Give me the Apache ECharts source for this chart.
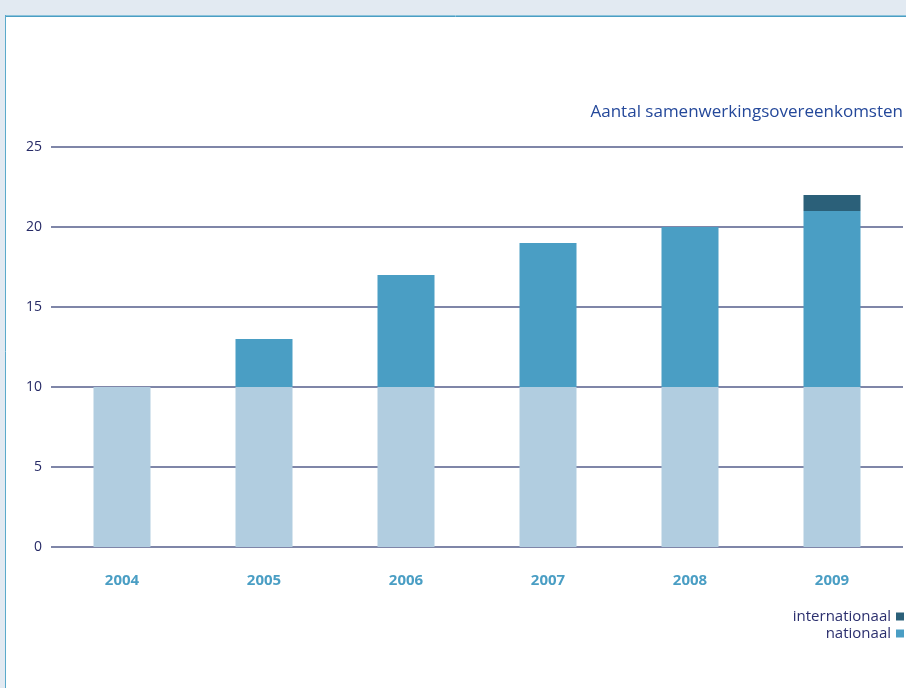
<!DOCTYPE html>
<html><head><meta charset="utf-8">
<script src="https://cdn.jsdelivr.net/npm/echarts@6/dist/echarts.min.js"></script>
<style>html,body{margin:0;padding:0;background:#e2eaf2;}#c{width:906px;height:688px;}</style>
</head><body><div id="c"></div>
<script>
const categories = ['2004','2005','2006','2007','2008','2009'];
const basis = [10,10,10,10,10,10];
const nationaal = [0,3,7,9,10,11];
const internationaal = [0,0,0,0,0,1];
const yTicks = {min:0,max:25,interval:5};

const chart = echarts.init(document.getElementById('c'));
chart.setOption({
  backgroundColor:'#e2eaf2',
  animation:false,
  graphic:[
    {type:'rect',z:-10,silent:true,shape:{x:5,y:15,width:901,height:673},style:{fill:'#ffffff'}},
    {type:'line',z:-9,silent:true,shape:{x1:5,y1:15.5,x2:906,y2:15.5},style:{stroke:'#8cc3db',lineWidth:1}},
    {type:'line',z:-9,silent:true,shape:{x1:5,y1:16.5,x2:906,y2:16.5},style:{stroke:'#4a9ec4',lineWidth:1}},
    {type:'line',z:-9,silent:true,shape:{x1:5.5,y1:15,x2:5.5,y2:688},style:{stroke:'#5aaacb',lineWidth:1}}
  ],
  title:{text:'Aantal samenwerkingsovereenkomsten',right:-2,top:99,
    textStyle:{color:'#24489a',fontSize:17,fontWeight:'normal',fontFamily:'Open Sans'}},
  grid:{left:51,right:3,top:147,bottom:141,containLabel:false},
  legend:{orient:'vertical',right:-3,top:604,align:'right',itemWidth:8,itemHeight:8,itemGap:2,
    icon:'rect',data:['internationaal','nationaal'],
    textStyle:{color:'#2b2f6e',fontSize:15,fontFamily:'Open Sans',padding:[0,0,0,0]}},
  xAxis:{type:'category',data:categories,axisLine:{show:false},axisTick:{show:false},
    axisLabel:{color:'#4a9ec4',fontWeight:'bold',fontSize:15,margin:26,fontFamily:'Open Sans'}},
  yAxis:{type:'value',min:yTicks.min,max:yTicks.max,interval:yTicks.interval,
    axisLine:{show:false},axisTick:{show:false},
    axisLabel:{color:'#262a66',fontSize:14,margin:9,fontFamily:'Open Sans'},
    splitLine:{lineStyle:{color:'#7f86a8',width:2}}},
  series:[
    {name:'basis',type:'bar',stack:'t',data:basis,barWidth:57,itemStyle:{color:'#b1cde0'}},
    {name:'nationaal',type:'bar',stack:'t',data:nationaal,itemStyle:{color:'#4a9ec4'}},
    {name:'internationaal',type:'bar',stack:'t',data:internationaal,itemStyle:{color:'#2b6079'}}
  ]
});
</script></body></html>
